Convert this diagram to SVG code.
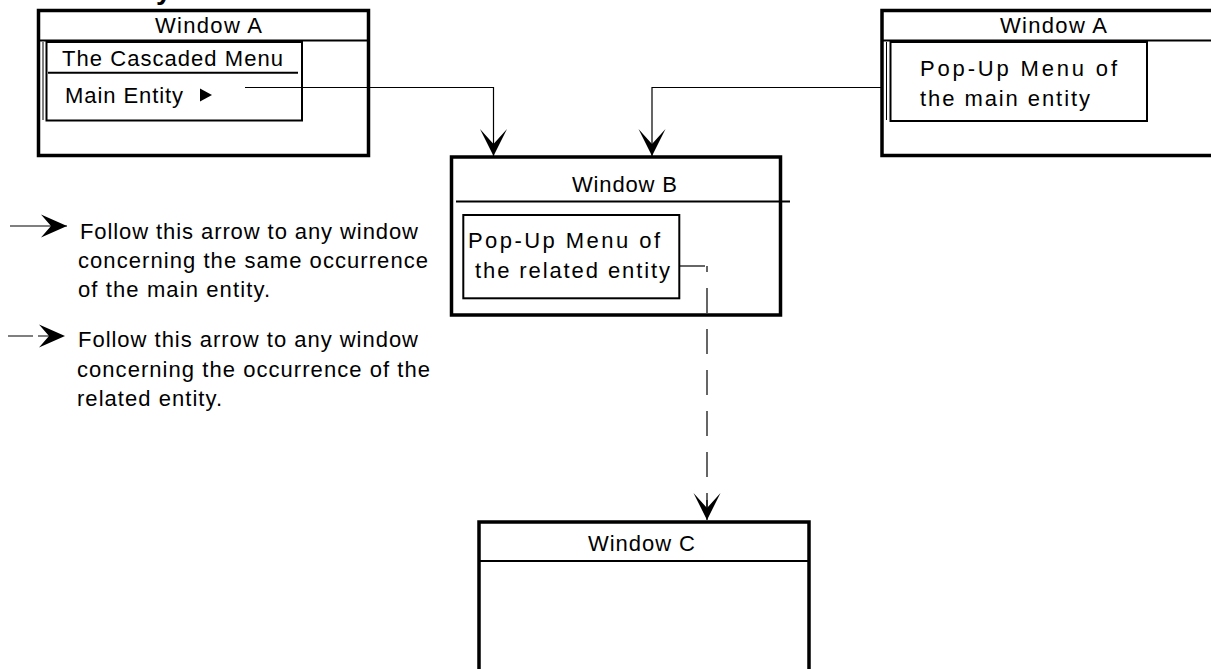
<svg xmlns="http://www.w3.org/2000/svg" width="1211" height="669" viewBox="0 0 1211 669">
  <style>
    .frame { fill: #fff; stroke: #000; stroke-width: 3.5; }
    .inner { fill: none; stroke: #000; stroke-width: 2; }
    .sep { stroke: #000; stroke-width: 2; fill: none; }
    .thin { stroke: #000; stroke-width: 1; fill: none; }
    .conn { stroke: #000; stroke-width: 1.2; fill: none; }
    .dash { stroke: #000; stroke-width: 1.2; fill: none; stroke-dasharray: 25 16; }
    text { font-family: "Liberation Sans Narrow", "Liberation Sans", Arial, sans-serif; font-size: 22px; fill: #000; }
    .head { font-family: "Liberation Sans", Arial, sans-serif; font-weight: bold; font-size: 28px; }
  </style>
  <defs>
    <marker id="barb" markerUnits="userSpaceOnUse" viewBox="-28 -15 30 30" markerWidth="30" markerHeight="30" refX="0" refY="0" orient="auto" overflow="visible">
      <path d="M0,0 L-27,-13.5 L-12,0 L-27,13.5 Z" fill="#000"/>
    </marker>
    <marker id="chev" markerUnits="userSpaceOnUse" viewBox="-28 -15 30 30" markerWidth="30" markerHeight="30" refX="0" refY="0" orient="auto" overflow="visible">
      <path d="M0,0 L-26,-11.5 L-16,0 L-26,11.5 Z" fill="#000"/>
    </marker>
  </defs>

  <rect width="1211" height="669" fill="#fff"/>

  <!-- heading cut off at the top edge -->
  <text class="head" x="156" y="-1">y</text>

  <!-- Window A with the cascaded menu -->
  <g id="window-a-cascade">
    <rect class="frame" x="38.5" y="10.5" width="330" height="145"/>
    <line class="sep" x1="38.5" y1="40.5" x2="368.5" y2="40.5"/>
    <line class="thin" x1="43" y1="42" x2="43" y2="120"/>
    <rect class="inner" x="46.5" y="42" width="255.5" height="78.5"/>
    <line class="sep" x1="48" y1="72.7" x2="298" y2="72.7"/>
    <text x="155" y="32.5" textLength="107" lengthAdjust="spacing">Window A</text>
    <text x="62" y="65.5" textLength="221" lengthAdjust="spacing">The Cascaded Menu</text>
    <text x="65" y="103" textLength="118" lengthAdjust="spacing">Main Entity</text>
    <polygon points="200,88.5 212,95 200,101.5" fill="#000"/>
  </g>

  <!-- Window A with the pop-up menu -->
  <g id="window-a-popup">
    <rect class="frame" x="882" y="10.5" width="400" height="145"/>
    <line class="sep" x1="882" y1="40.5" x2="1211" y2="40.5"/>
    <line class="thin" x1="886.5" y1="42" x2="886.5" y2="120"/>
    <rect class="inner" x="890.5" y="42" width="256.5" height="79"/>
    <text x="1000" y="32.5" textLength="107" lengthAdjust="spacing">Window A</text>
    <text x="920" y="76" textLength="197" lengthAdjust="spacing">Pop-Up Menu of</text>
    <text x="920" y="106" textLength="170" lengthAdjust="spacing">the main entity</text>
  </g>

  <!-- Window B -->
  <g id="window-b">
    <rect class="frame" x="451.5" y="157" width="329" height="158"/>
    <line class="sep" x1="456" y1="201.5" x2="790" y2="201.5"/>
    <rect class="inner" x="463.3" y="215" width="216" height="83.3"/>
    <text x="572" y="191.7" textLength="105" lengthAdjust="spacing">Window B</text>
    <text x="468" y="248.3" textLength="192" lengthAdjust="spacing">Pop-Up Menu of</text>
    <text x="475" y="278.3" textLength="195" lengthAdjust="spacing">the related entity</text>
  </g>

  <!-- Window C -->
  <g id="window-c">
    <rect class="frame" x="479" y="522" width="330" height="200"/>
    <line class="sep" x1="479" y1="561" x2="809" y2="561"/>
    <text x="588" y="551" textLength="107" lengthAdjust="spacing">Window C</text>
  </g>

  <!-- connectors between windows -->
  <g id="connectors">
    <polyline class="conn" points="245,87.5 493.5,87.5 493.5,156" marker-end="url(#barb)"/>
    <polyline class="conn" points="882,87.5 652,87.5 652,156" marker-end="url(#barb)"/>
    <line class="conn" x1="680" y1="266" x2="705" y2="266"/>
    <line class="dash" x1="707" y1="266" x2="707" y2="520" stroke-dashoffset="19"/>
    <line class="conn" x1="707" y1="500" x2="707" y2="520" marker-end="url(#barb)"/>
  </g>

  <!-- legend -->
  <g id="legend">
    <line class="conn" x1="10" y1="226" x2="67" y2="226" marker-end="url(#chev)"/>
    <text x="80" y="239" textLength="338" lengthAdjust="spacing">Follow this arrow to any window</text>
    <text x="78" y="268" textLength="350" lengthAdjust="spacing">concerning the same occurrence</text>
    <text x="78" y="297" textLength="192" lengthAdjust="spacing">of the main entity.</text>
    <line class="conn" x1="8" y1="336" x2="65" y2="336" stroke-dasharray="25 5" marker-end="url(#chev)"/>
    <text x="78" y="347" textLength="340" lengthAdjust="spacing">Follow this arrow to any window</text>
    <text x="77" y="376.5" textLength="353" lengthAdjust="spacing">concerning the occurrence of the</text>
    <text x="77" y="406" textLength="145" lengthAdjust="spacing">related entity.</text>
  </g>
</svg>
